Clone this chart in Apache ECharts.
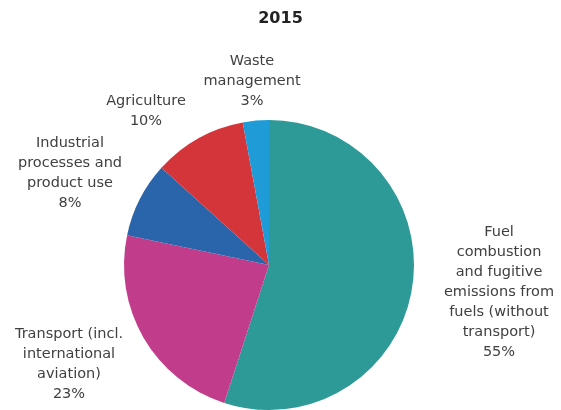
<!DOCTYPE html>
<html>
<head>
<meta charset="utf-8">
<script src="https://cdn.jsdelivr.net/npm/echarts@6/dist/echarts.min.js"></script>
<style>
html,body{margin:0;padding:0;background:#fff;}
#c{width:561px;height:410px;}
</style>
</head>
<body>
<div id="c"></div>
<script>
var title = '2015';
var categories = [
  'Fuel\ncombustion\nand fugitive\nemissions from\nfuels (without\ntransport)',
  'Transport (incl.\ninternational\naviation)',
  'Industrial\nprocesses and\nproduct use',
  'Agriculture',
  'Waste\nmanagement'
];
var shares = [55.0, 23.3, 8.4, 10.4, 2.9];
var colors = ['#2e9a98', '#c23c8c', '#2a64aa', '#d4353a', '#1f9bd8'];

// label block centres (layout only)
var labelPos = [[499, 292], [69, 364], [70, 173], [146, 111], [252, 81]];

var chart = echarts.init(document.getElementById('c'), null, {renderer: 'canvas'});
chart.setOption({
  animation: false,
  backgroundColor: '#fff',
  title: {
    text: title,
    left: 'center',
    top: 11,
    padding: [0, 0, 0, 0],
    textStyle: {fontFamily: 'DejaVu Sans', fontSize: 16, fontWeight: 'bold', color: '#222'}
  },
  series: [{
    type: 'pie',
    center: [269, 265],
    radius: [0, 145],
    startAngle: 90,
    clockwise: true,
    avoidLabelOverlap: false,
    data: categories.map(function (n, i) {
      return {name: n, value: shares[i], itemStyle: {color: colors[i]}};
    }),
    label: {
      show: true,
      position: 'outside',
      formatter: function (p) { return p.name + '\n' + Math.round(p.value) + '%'; },
      fontFamily: 'DejaVu Sans',
      fontSize: 14.5,
      lineHeight: 20,
      color: '#404040',
      align: 'center'
    },
    labelLine: {show: false},
    labelLayout: function (params) {
      var p = labelPos[params.dataIndex];
      return {x: p[0], y: p[1], align: 'center', verticalAlign: 'middle'};
    }
  }]
});
</script>
</body>
</html>
